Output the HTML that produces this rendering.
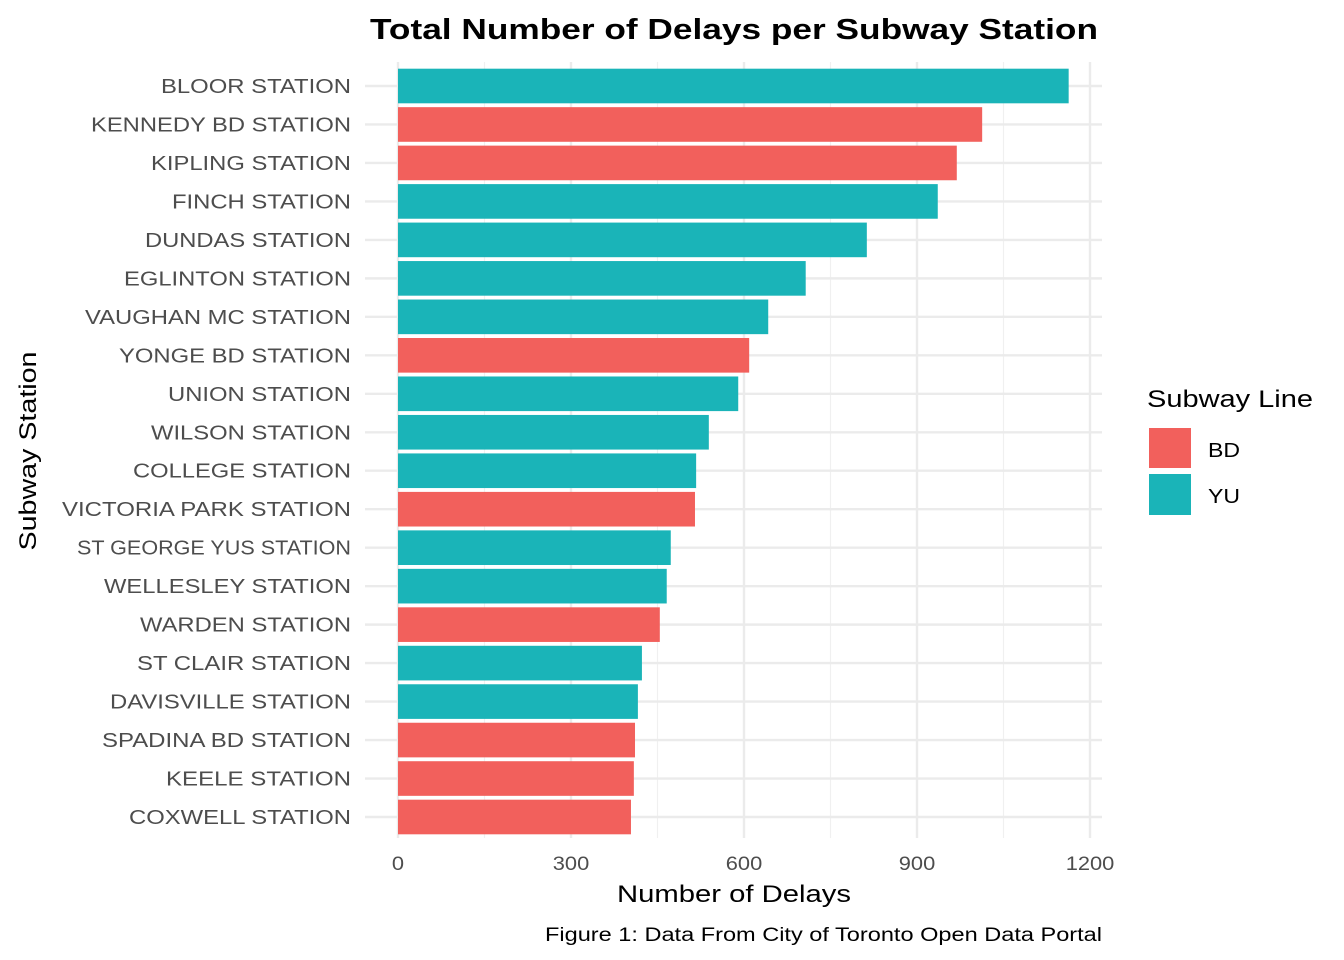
<!DOCTYPE html>
<html><head><meta charset="utf-8">
<style>
html,body{margin:0;padding:0;background:#fff;}
svg{display:block;font-family:"Liberation Sans",Arial,sans-serif;}
</style></head>
<body>
<svg id="chart" width="1344" height="960" viewBox="0 0 1344 960">
<text x="734" y="39" text-anchor="middle" font-size="29" font-weight="bold" fill="#000" data-w="728">Total Number of Delays per Subway Station</text>
<g id="grid"></g>
<g id="bars"></g>
<g id="ylabels"></g>
<g id="xlabels"></g>
<text x="734" y="902" text-anchor="middle" font-size="24" fill="#000" data-w="234">Number of Delays</text>
<text transform="translate(36,451) rotate(-90)" text-anchor="middle" font-size="24" fill="#000" data-w="199">Subway Station</text>
<g>
<text x="1147" y="407" font-size="24" fill="#000" data-w="166">Subway Line</text>
<rect x="1149" y="428" width="42" height="40" fill="#F2605C"/>
<text x="1208" y="457" font-size="20" fill="#000" data-w="32">BD</text>
<rect x="1149" y="474" width="42" height="41" fill="#1AB4B8"/>
<text x="1208" y="503" font-size="20" fill="#000" data-w="32">YU</text>
</g>
<text x="1102" y="941" text-anchor="end" font-size="19" fill="#000" data-w="557">Figure 1: Data From City of Toronto Open Data Portal</text>
</svg>
<script>
const stations = ["BLOOR STATION","KENNEDY BD STATION","KIPLING STATION","FINCH STATION","DUNDAS STATION","EGLINTON STATION","VAUGHAN MC STATION","YONGE BD STATION","UNION STATION","WILSON STATION","COLLEGE STATION","VICTORIA PARK STATION","ST GEORGE YUS STATION","WELLESLEY STATION","WARDEN STATION","ST CLAIR STATION","DAVISVILLE STATION","SPADINA BD STATION","KEELE STATION","COXWELL STATION"];
const delays = [1163,1013,969,936,813,707,642,609,590,539,517,515,473,466,454,423,416,411,409,404];
const lines = ["YU","BD","BD","YU","YU","YU","YU","BD","YU","YU","YU","BD","YU","YU","BD","YU","YU","BD","BD","BD"];
const xTicks = [0,300,600,900,1200];
const xMinor = [150,450,750,1050];
// rendered label text widths (layout, not data)
const labelLeft = [161,91,151,172,145,124,85,119,168,151,133,62,77,104,140,137,110,102,166,129];

const NS="http://www.w3.org/2000/svg";
const x0=398, pxPer=(1090-398)/1200, panelL=365, panelR=1102, gridT=62, gridB=838;
const firstC=86, lastC=817;
const step=(lastC-firstC)/(stations.length-1), barH=step*0.9;
function xs(v){return x0+v*pxPer;}
function yc(i){return firstC+step*i;}
function mk(tag,attrs,parent){const e=document.createElementNS(NS,tag);for(const k in attrs)e.setAttribute(k,attrs[k]);parent.appendChild(e);return e;}
const grid=document.getElementById('grid'),bars=document.getElementById('bars'),yl=document.getElementById('ylabels'),xl=document.getElementById('xlabels');
xMinor.forEach(v=>{const l=mk('line',{x1:xs(v),x2:xs(v),y1:gridT,y2:gridB,stroke:'#f0f0f0','stroke-width':1.2},grid);

});
xTicks.forEach(v=>{const l=mk('line',{x1:xs(v),x2:xs(v),y1:gridT,y2:gridB,stroke:'#ebebeb','stroke-width':2.4},grid);


const t=mk('text',{x:xs(v),y:870,'text-anchor':'middle','font-size':19,fill:'#4d4d4d'},xl);t.textContent=v;


t.setAttribute('data-s','1.15');});
stations.forEach((s,i)=>{
const g=mk('line',{x1:panelL,x2:panelR,y1:yc(i),y2:yc(i),stroke:'#ebebeb','stroke-width':2.4},grid);


const r=mk('rect',{x:xs(0),y:yc(i)-barH/2,width:xs(delays[i])-xs(0),height:barH,fill:lines[i]==='BD'?'#F2605C':'#1AB4B8'},bars);


const t=mk('text',{x:351,y:yc(i)+7,'text-anchor':'end','font-size':20,fill:'#4d4d4d'},yl);t.textContent=s;


if(labelLeft[i]!==undefined) t.setAttribute('data-w', 351-labelLeft[i]); else t.setAttribute('data-s','1.15');
});
document.querySelectorAll('text').forEach(t=>{
  const w=t.getAttribute('data-w'), s=t.getAttribute('data-s');
  let target=null;
  if(w) target=+w; else if(s) target=t.getComputedTextLength()*(+s);
  if(target){t.setAttribute('textLength',target);t.setAttribute('lengthAdjust','spacingAndGlyphs');}
});
</script>
</body></html>
